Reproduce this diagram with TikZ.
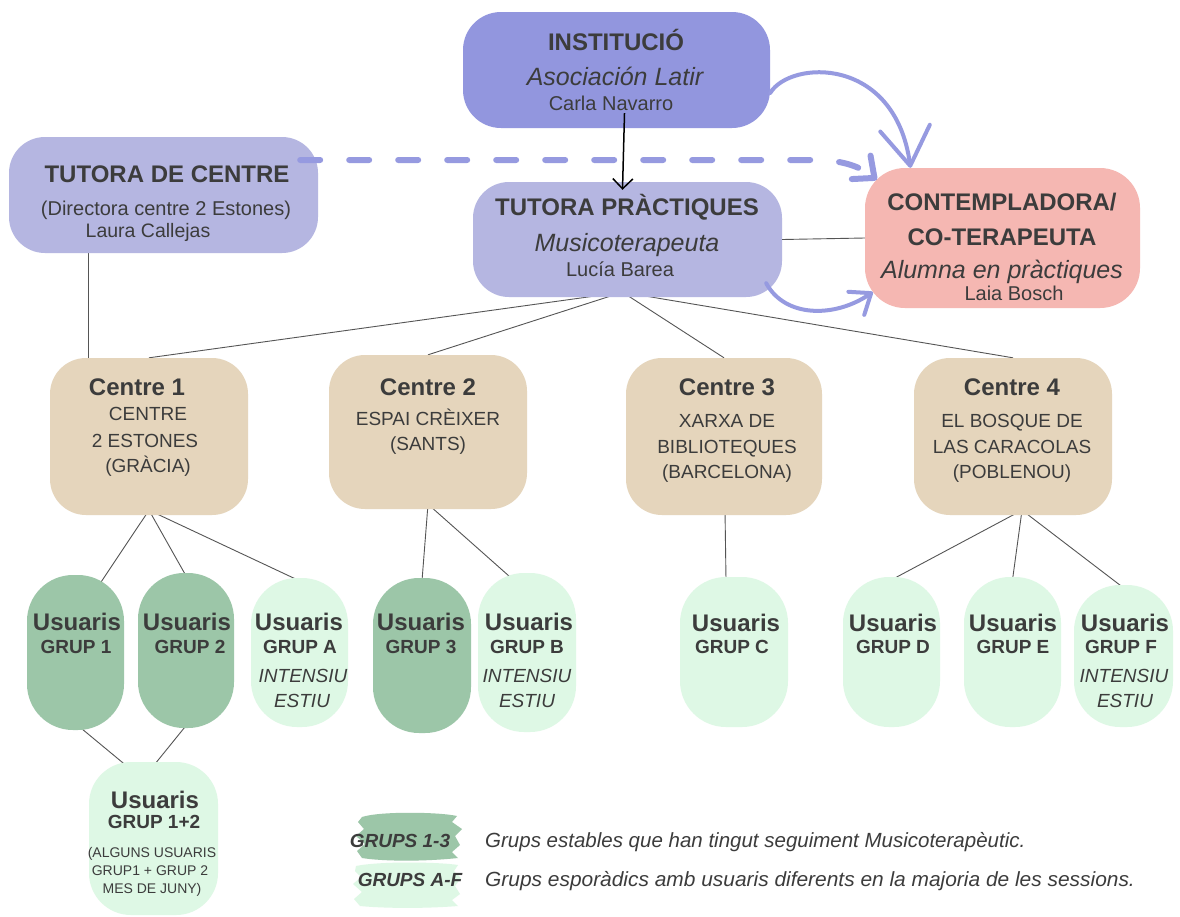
\documentclass[tikz,border=0pt]{standalone}
\usepackage{fontspec}
\setmainfont{Liberation Sans}
\usetikzlibrary{arrows.meta,calc}
\definecolor{instc}{HTML}{9296DE}
\definecolor{tutc}{HTML}{B5B6E1}
\definecolor{contc}{HTML}{F5B7B2}
\definecolor{cenc}{HTML}{E5D5BC}
\definecolor{dkg}{HTML}{9CC6A8}
\definecolor{ltg}{HTML}{DEF8E5}
\definecolor{arrc}{HTML}{969AE0}
\definecolor{txtc}{HTML}{3C3C3C}
\definecolor{linec}{HTML}{555555}
\pgfdeclarelayer{bg}
\pgfsetlayers{bg,main}
\newcommand\myfs[1]{\fontsize{#1}{#1}\selectfont}
\tikzset{
  boxs/.style={rectangle, draw=none, inner sep=0pt},
  grp/.style={boxs, rounded corners=46pt},
  txt/.style={text=txtc, inner sep=0pt, anchor=base},
  txtb/.style={txt, font=\bfseries\myfs{#1}},
  txtr/.style={txt, font=\myfs{#1}},
  txti/.style={txt, font=\itshape\myfs{#1}},
  txtbi/.style={txt, font=\bfseries\itshape\myfs{#1}},
  conn/.style={draw=linec, line width=0.9pt},
  bigarrow/.style={draw=arrc, line width=4pt, line cap=round},
}
\begin{document}
\begin{tikzpicture}[x=1pt,y=-1pt]
\useasboundingbox (0,0) rectangle (1180,916);

% top boxes
\node[boxs, fill=instc, minimum width=307pt, minimum height=116pt, rounded corners=38pt] (inst) at (616.5,70) {};
\node[boxs, fill=tutc, minimum width=309pt, minimum height=116pt, rounded corners=36pt] (tdc) at (163.5,195) {};
\node[boxs, fill=tutc, minimum width=309pt, minimum height=115pt, rounded corners=36pt] (tp) at (627.5,239.5) {};
\node[boxs, fill=contc, minimum width=275pt, minimum height=140pt, rounded corners=40pt] (cont) at (1002.5,238) {};

% centres
\node[boxs, fill=cenc, minimum width=198pt, minimum height=157pt, rounded corners=36pt] (c1) at (149,436.5) {};
\node[boxs, fill=cenc, minimum width=198pt, minimum height=154pt, rounded corners=36pt] (c2) at (428,432) {};
\node[boxs, fill=cenc, minimum width=196pt, minimum height=157pt, rounded corners=36pt] (c3) at (724,436.5) {};
\node[boxs, fill=cenc, minimum width=198pt, minimum height=157pt, rounded corners=36pt] (c4) at (1013,436.5) {};

% groups
\node[grp, fill=dkg, minimum width=97pt, minimum height=155pt] (g1) at (75.5,652.5) {};
\node[grp, fill=dkg, minimum width=96pt, minimum height=155pt] (g2) at (186,650.5) {};
\node[grp, fill=ltg, minimum width=97pt, minimum height=149pt] (ga) at (299.5,652.5) {};
\node[grp, fill=dkg, minimum width=98pt, minimum height=155pt] (g3) at (422,655.5) {};
\node[grp, fill=ltg, minimum width=98pt, minimum height=159pt] (gb) at (527,652.5) {};
\node[grp, fill=ltg, minimum width=108pt, minimum height=150pt] (gc) at (734,652) {};
\node[grp, fill=ltg, minimum width=97pt, minimum height=150pt] (gd) at (891.5,652) {};
\node[grp, fill=ltg, minimum width=97pt, minimum height=150pt] (ge) at (1012.5,652) {};
\node[grp, fill=ltg, minimum width=99pt, minimum height=142pt] (gf) at (1123.5,656) {};
\node[boxs, fill=ltg, minimum width=129pt, minimum height=153pt, rounded corners=42pt] (g12) at (153.5,838.5) {};

% background and thin connectors (behind boxes)
\begin{pgfonlayer}{bg}
\fill[white] (0,0) rectangle (1180,916);
\draw[conn] ($(tdc.south west)+(80,-10)$) -- ($(c1.north west)+(39,10)$);
\draw[conn] ($(tp.south)+(-5,-5)$) -- (c1.north);
\draw[conn] ($(tp.south)+(-5,-5)$) -- (c2.north);
\draw[conn] ($(tp.south)+(-5,-5)$) -- (c3.north);
\draw[conn] ($(tp.south)+(-5,-5)$) -- (c4.north);
\draw[conn] ($(c1.south)+(0,-5)$) -- ($(g1.north)+(25,8)$);
\draw[conn] ($(c1.south)+(0,-5)$) -- ($(g2.north)+(0,3)$);
\draw[conn] ($(c1.south)+(0,-5)$) -- ($(ga.north)+(0,3)$);
\draw[conn] ($(c2.south)+(0,-5)$) -- ($(g3.north)+(0,3)$);
\draw[conn] ($(c2.south)+(0,-5)$) -- ($(gb.north)+(-16,5)$);
\draw[conn] ($(c3.south)+(1,-5)$) -- ($(gc.north)+(-8,3)$);
\draw[conn] ($(c4.south)+(9,-5)$) -- ($(gd.north)+(0,3)$);
\draw[conn] ($(c4.south)+(9,-5)$) -- ($(ge.north)+(0,3)$);
\draw[conn] ($(c4.south)+(9,-5)$) -- ($(gf.north)+(0,3)$);
\draw[conn] ($(g1.south)+(2,-5)$) -- ($(g12.north)+(-27,4)$);
\draw[conn] ($(g2.south)+(2,-5)$) -- ($(g12.north)+(0,4)$);
\end{pgfonlayer}
\draw[conn] (tp.east) -- (cont.west);

% texts
\node[txtb=24] (instA) at (616,50) {INSTITUCIÓ};
\node[txti=25] (instB) at (615,85) {Asociación Latir};
\node[txtr=20] (instC) at (611,110) {Carla Navarro};

\node[txtb=24] (tdcA) at (167,182) {TUTORA DE CENTRE};
\node[txtr=20] (tdcB) at (166,215) {(Directora centre 2 Estones)};
\node[txtr=19.5] (tdcC) at (148,237) {Laura Callejas};

\node[txtb=24] (tpA) at (627,215) {TUTORA PRÀCTIQUES};
\node[txti=25] (tpB) at (627,251) {Musicoterapeuta};
\node[txtr=20] (tpC) at (620,276) {Lucía Barea};

\node[txtb=24] (cA) at (1002,210) {CONTEMPLADORA/};
\node[txtb=24] (cB) at (1002,245) {CO-TERAPEUTA};
\node[txti=25] (cC) at (1002,278) {Alumna en pràctiques};
\node[txtr=20] (cD) at (1014,300) {Laia Bosch};

\node[txtb=24] (c1A) at (137,395) {Centre 1};
\node[txtr=19] (c1B) at (148,420) {CENTRE};
\node[txtr=19] (c1C) at (145,447) {2 ESTONES};
\node[txtr=19] (c1D) at (148,472) {(GRÀCIA)};

\node[txtb=24] (c2A) at (428,395) {Centre 2};
\node[txtr=19] (c2B) at (428,425) {ESPAI CRÈIXER};
\node[txtr=19] (c2C) at (428,450) {(SANTS)};

\node[txtb=24] (c3A) at (727,395) {Centre 3};
\node[txtr=19] (c3B) at (727,427) {XARXA DE};
\node[txtr=19] (c3C) at (727,453) {BIBLIOTEQUES};
\node[txtr=19] (c3D) at (727,478) {(BARCELONA)};

\node[txtb=24] (c4A) at (1012,395) {Centre 4};
\node[txtr=19] (c4B) at (1012,427) {EL BOSQUE DE};
\node[txtr=19] (c4C) at (1012,453) {LAS CARACOLAS};
\node[txtr=19] (c4D) at (1012,478) {(POBLENOU)};

\node[txtb=24] (g1A) at (77,630) {Usuaris};
\node[txtb=19] (g1B) at (76,653) {GRUP 1};
\node[txtb=24] (g2A) at (187,630) {Usuaris};
\node[txtb=19] (g2B) at (190,653) {GRUP 2};
\node[txtb=24] (gaA) at (299,630) {Usuaris};
\node[txtb=19] (gaB) at (300,653) {GRUP A};
\node[txti=19] (gaC) at (303,682) {INTENSIU};
\node[txti=19] (gaD) at (302,707) {ESTIU};
\node[txtb=24] (g3A) at (421,630) {Usuaris};
\node[txtb=19] (g3B) at (421,653) {GRUP 3};
\node[txtb=24] (gbA) at (529,630) {Usuaris};
\node[txtb=19] (gbB) at (527,653) {GRUP B};
\node[txti=19] (gbC) at (527,682) {INTENSIU};
\node[txti=19] (gbD) at (527,707) {ESTIU};
\node[txtb=24] (gcA) at (736,631) {Usuaris};
\node[txtb=19] (gcB) at (732,653) {GRUP C};
\node[txtb=24] (gdA) at (893,631) {Usuaris};
\node[txtb=19] (gdB) at (893,653) {GRUP D};
\node[txtb=24] (geA) at (1013,631) {Usuaris};
\node[txtb=19] (geB) at (1013,653) {GRUP E};
\node[txtb=24] (gfA) at (1125,631) {Usuaris};
\node[txtb=19] (gfB) at (1121,653) {GRUP F};
\node[txti=19] (gfC) at (1124,682) {INTENSIU};
\node[txti=19] (gfD) at (1125,707) {ESTIU};

\node[txtb=24] (g12A) at (155,808) {Usuaris};
\node[txtb=19] (g12B) at (154,828) {GRUP 1+2};
\node[txtr=14] (g12C) at (152,857) {(ALGUNS USUARIS};
\node[txtr=14] (g12D) at (150,875) {GRUP1 + GRUP 2};
\node[txtr=14] (g12E) at (152,893) {MES DE JUNY)};

% arrows
\draw[-{Straight Barb[length=10pt,width=20pt]}, line width=1.5pt, black]
  ($(inst.south)+(8,-15)$) -- ($(tp.north)+(-5,8)$);
\draw[bigarrow, -{Straight Barb[length=38pt,width=50pt,round]}]
  ($(inst.east)+(0,23)$) .. controls (790,60) and (895,55) .. ($(cont.north)+(-92,0)$);
\draw[draw=arrc, line width=6pt, line cap=round, dash pattern=on 20pt off 29pt,
      -{Straight Barb[length=17pt,width=30pt,round]}]
  ($(tdc.east)+(-18,-35)$) -- (815,160) .. controls (845,160) and (862,168) .. ($(cont.north west)+(12,12)$);
\draw[bigarrow, -{Straight Barb[length=18pt,width=28pt,round]}]
  ($(tp.south east)+(-16,-14)$) .. controls (785,318) and (835,318) .. ($(cont.west)+(8,54)$);

% legend
\fill[dkg] (362,817) .. controls (380,811) and (440,812) .. (457,816) -- (452,822) -- (462,829)
  -- (455,836) -- (460,845) -- (452,852) -- (458,858) .. controls (420,862) and (380,861) .. (362,858)
  -- (357,851) -- (365,844) -- (356,836) -- (364,829) -- (358,822) -- cycle;
\fill[ltg] (356,866) .. controls (380,861) and (440,862) .. (458,865) -- (454,871) -- (461,878)
  -- (455,886) -- (460,894) -- (452,900) -- (458,906) .. controls (420,909) and (380,908) .. (360,906)
  -- (354,899) -- (362,892) -- (353,884) -- (361,877) -- (355,871) -- cycle;
\node[txtbi=19] (lg1) at (400,847) {GRUPS 1-3};
\node[txtbi=19] (lg2) at (410,886) {GRUPS A-F};
\node[txti=20.5, anchor=base west] (ld1) at (485,847) {Grups estables que han tingut seguiment Musicoterapèutic.};
\node[txti=20.5, anchor=base west] (ld2) at (485,886) {\scalebox{1.02}[1]{Grups esporàdics amb usuaris diferents en la majoria de les sessions.}};
\end{tikzpicture}
\end{document}
